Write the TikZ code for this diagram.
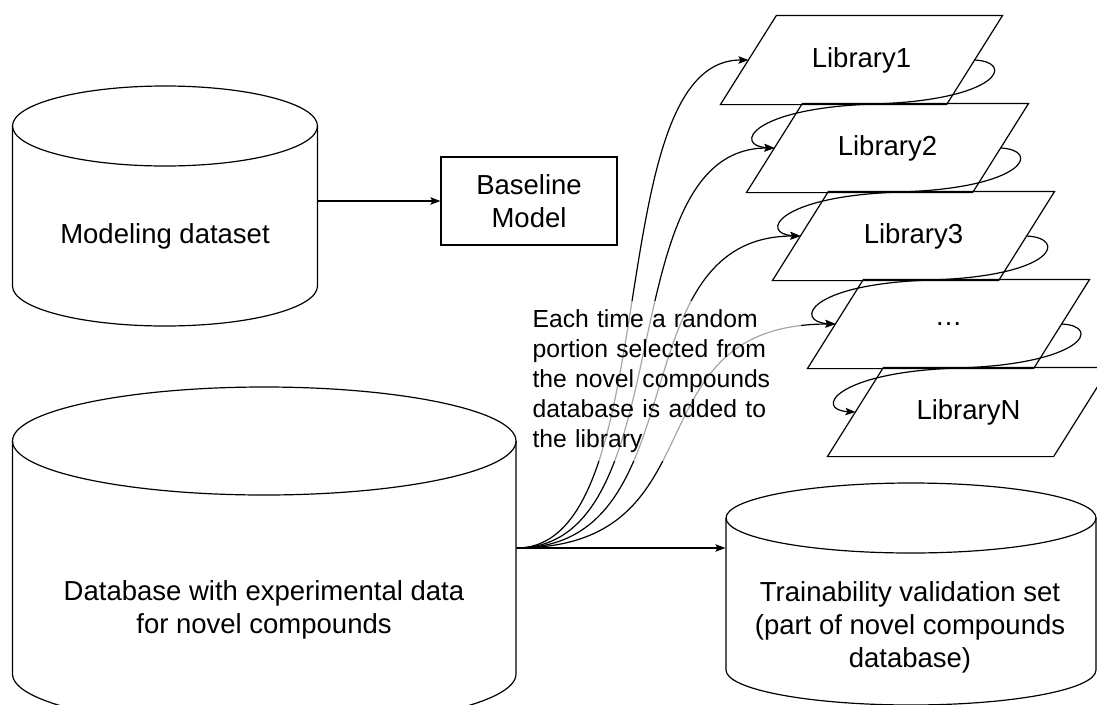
\documentclass[tikz,border=0pt]{standalone}
\usepackage{fontspec}
\setmainfont{Liberation Sans}
\usetikzlibrary{arrows.meta,calc}
\begin{document}
\begin{tikzpicture}[x=1pt,y=-1pt,line width=1.2pt,
  every node/.style={font=\fontsize{27.5}{33}\selectfont},
  para/.style={minimum height=88pt, minimum width=225pt, inner sep=0pt},
  body/.style={inner sep=0pt, minimum width=#1},
  arr/.style={-{Stealth[length=10pt,width=7.5pt,inset=2pt]}},
  note/.style={anchor=west, fill=white, fill opacity=0.65, text opacity=1,
    text width=264pt, inner xsep=4pt, inner ysep=8pt, align=left,
    font=\fontsize{24.7}{30}\selectfont}
]
\useasboundingbox (0,0) rectangle (1097,704);
\clip (0,0) rectangle (1097,704);

% Modeling dataset cylinder
\draw (12.5,126) -- (12.5,286) arc[start angle=180,end angle=360,x radius=152.5pt,y radius=40pt] -- (317.5,126);
\draw (165,126) ellipse[x radius=152.5pt,y radius=40pt];
\node[body=305pt, minimum height=160pt] (md) at (165,206) {};
\node (mdt) at (165,236) {Modeling dataset};

% Database cylinder
\draw (12.5,441) -- (12.5,674) arc[start angle=180,end angle=360,x radius=251.75pt,y radius=54pt] -- (516,441);
\draw (264.25,441) ellipse[x radius=251.75pt,y radius=54pt];
\node[body=503.5pt, minimum height=233pt] (db) at (264.25,557.5) {};
\node[align=center] (dbt) at (264,610) {Database with experimental data\\for novel compounds};
\coordinate (fan) at ([yshift=9.5pt]db.east);

% Trainability cylinder
\draw (726,518) -- (726,670) arc[start angle=180,end angle=360,x radius=185pt,y radius=35pt] -- (1096,518);
\draw (911,518) ellipse[x radius=185pt,y radius=35pt];
\node[body=370pt, minimum height=152pt] (tv) at (911,594) {};
\node[align=center] (tvt) at (910,627) {Trainability validation set\\(part of novel compounds\\database)};

% Baseline model
\node[draw, minimum width=176pt, minimum height=88pt, align=center, inner sep=0pt] (bm) at (529,201) {Baseline\\Model};
\draw[arr] (bm.west -| md.east) -- (bm.west);

% Libraries
\node[para] (L1) at (861.5,60) {Library1};
\node[para] (L2) at (887.5,148) {Library2};
\node[para] (L3) at (913.5,236) {Library3};
\node[para] (L4) at (948.5,324) {…};
\node[para] (LN) at (968.5,412) {LibraryN};
\foreach \n in {L1,L2,L3,L4,LN}{
  \draw ([xshift=-28pt]\n.south west) -- ([xshift=-28pt]\n.south east)
     -- ([xshift=28pt]\n.north east) -- ([xshift=28pt]\n.north west) -- cycle;
}

% chain
\foreach \a/\b in {L1/L2,L2/L3,L3/L4,L4/LN}{
  \draw[arr] (\a.east) .. controls +(41,2) and +(125,-4) .. ($(\a.east)!.5!(\b.west)$)
     .. controls +(-125,4) and +(-41,-2) .. (\b.west);
}

% fan
\draw[arr] (fan) .. controls +(151,0) and +(-151,0) .. (L1.west);
\draw[arr] (fan) .. controls +(168,0) and +(-168,0) .. (L2.west);
\draw[arr] (fan) .. controls +(185,0) and +(-185,0) .. (L3.west);
\draw[arr] (fan) .. controls +(209,0) and +(-209,0) .. (L4.west);
\draw[arr] (fan) -- (fan -| tv.west);

\node[note] (lbl) at (528,381) {Each time a random\\portion selected from\\the novel compounds\\database is added to\\the library};
\end{tikzpicture}
\end{document}
